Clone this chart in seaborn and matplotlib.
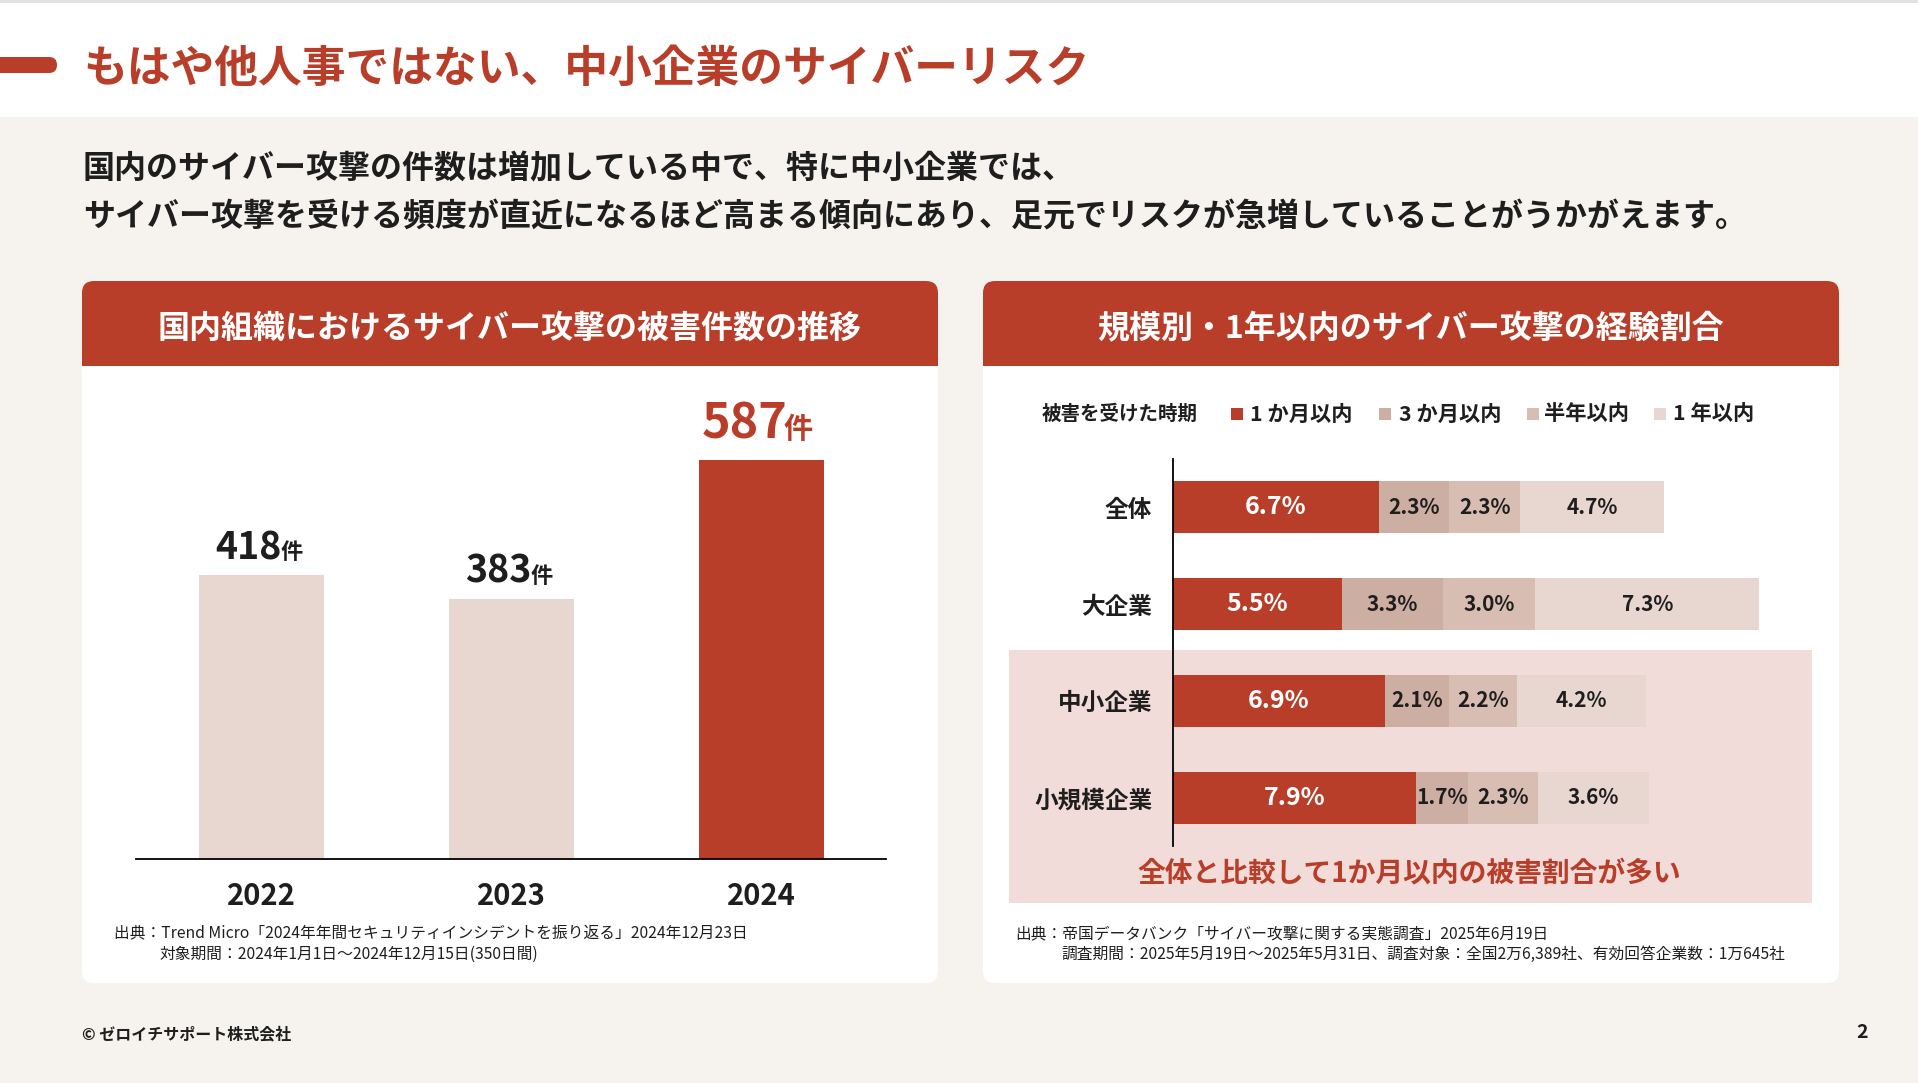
import numpy as np
import pandas as pd
import matplotlib.pyplot as plt
import seaborn as sns
from matplotlib.patches import FancyBboxPatch, Rectangle

W, H = 1918, 1083

RED = '#B83E2A'
BEIGE = '#E7D7D0'
BG = '#F6F3EF'
INK = '#1E1E1E'

# 左：国内組織の被害件数
years = ['2022', '2023', '2024']
incidents = [418, 383, 587]

# 右：規模別・被害を受けた時期（%）
groups = ['全体', '大企業', '中小企業', '小規模企業']
periods = ['1 か月以内', '3 か月以内', '半年以内', '1 年以内']
within_1m = [6.7, 5.5, 6.9, 7.9]
within_3m = [2.3, 3.3, 2.1, 1.7]
within_6m = [2.3, 3.0, 2.2, 2.3]
within_1y = [4.7, 7.3, 4.2, 3.6]
period_colors = [RED, '#CDAEA2', '#D8BEB2', '#E7D7D0']

sns.set_theme(style='white')
plt.rcParams['font.family'] = ['Noto Sans CJK JP', 'DejaVu Sans']

fig = plt.figure(figsize=(W / 100, H / 100), dpi=100)
fig.patch.set_facecolor(BG)

# 背景用の軸（ピクセル座標）
bg = fig.add_axes([0, 0, 1, 1])
bg.set_xlim(0, W)
bg.set_ylim(H, 0)
bg.axis('off')


def px_axes(x0, y0, x1, y1):
    return fig.add_axes([x0 / W, 1 - y1 / H, (x1 - x0) / W, (y1 - y0) / H])


# ヘッダー
bg.add_patch(Rectangle((0, 0), W, 117, fc='white', ec='none'))
bg.add_patch(Rectangle((0, 0), W, 3, fc='#E2E2E2', ec='none'))
bg.add_patch(FancyBboxPatch((-20, 57), 77, 16, boxstyle='round,pad=0,rounding_size=8',
                            fc=RED, ec='none'))
bg.text(83, 69, 'もはや他人事ではない、中小企業のサイバーリスク', fontsize=31.5,
        fontweight='bold', color=RED, va='center')

bg.text(83, 169, '国内のサイバー攻撃の件数は増加している中で、特に中小企業では、',
        fontsize=23, fontweight='bold', color=INK, va='center')
bg.text(83, 218, 'サイバー攻撃を受ける頻度が直近になるほど高まる傾向にあり、足元でリスクが急増していることがうかがえます。',
        fontsize=23, fontweight='bold', color=INK, va='center')

# カード
card_titles = ['国内組織におけるサイバー攻撃の被害件数の推移', '規模別・1年以内のサイバー攻撃の経験割合']
for x0, title in zip([82, 983], card_titles):
    bg.add_patch(FancyBboxPatch((x0, 281), 856, 702, boxstyle='round,pad=0,rounding_size=12',
                                fc='white', ec='none'))
    bg.add_patch(FancyBboxPatch((x0, 281), 856, 85, boxstyle='round,pad=0,rounding_size=12',
                                fc=RED, ec='none'))
    bg.add_patch(Rectangle((x0, 340), 856, 26, fc=RED, ec='none'))
    bg.text(x0 + 428, 329, title, fontsize=23, fontweight='bold', color='white',
            ha='center', va='center')

# 強調エリア
bg.add_patch(Rectangle((1009, 650), 803, 253, fc='#F2DCDA', ec='none'))
bg.text(1409, 873, '全体と比較して1か月以内の被害割合が多い', fontsize=20,
        fontweight='bold', color=RED, ha='center', va='center')

# 凡例
bg.text(1042, 414, '被害を受けた時期', fontsize=14, fontweight='bold', color=INK, va='center')
for sx, tx, lab, col in zip([1231, 1379, 1527, 1654], [1250, 1399, 1544, 1673], periods, period_colors):
    bg.add_patch(Rectangle((sx, 408), 12, 12, fc=col, ec='none'))
    bg.text(tx, 414, lab, fontsize=15.3, fontweight='bold', color=INK, va='center')

# 出典
bg.text(114, 934, '出典：Trend Micro「2024年年間セキュリティインシデントを振り返る」2024年12月23日',
        fontsize=11.3, color=INK, va='center')
bg.text(160, 954, '対象期間：2024年1月1日～2024年12月15日(350日間)',
        fontsize=11.3, color=INK, va='center')
bg.text(1015, 934, '出典：帝国データバンク「サイバー攻撃に関する実態調査」2025年6月19日',
        fontsize=11.3, color=INK, va='center')
bg.text(1061, 954, '調査期間：2025年5月19日～2025年5月31日、調査対象：全国2万6,389社、有効回答企業数：1万645社',
        fontsize=11.3, color=INK, va='center')

bg.text(82, 1034, '© ゼロイチサポート株式会社', fontsize=11.5, fontweight='bold', color=INK, va='center')
bg.text(1862, 1032, '2', fontsize=14, fontweight='bold', color=INK, ha='center', va='center')

# ---- 左グラフ ----
ax1 = px_axes(136, 400, 886, 859)
ax1.patch.set_alpha(0)
sns.barplot(x=years, y=incidents, hue=years, palette=[BEIGE, BEIGE, RED], legend=False,
            width=0.5, saturation=1, linewidth=0, ax=ax1)
ax1.set_xlim(-0.5, 2.5)
ax1.set_ylim(0, 676)
ax1.set_xlabel('')
ax1.set_ylabel('')
ax1.set_yticks([])
for s in ['top', 'right', 'left']:
    ax1.spines[s].set_visible(False)
ax1.spines['bottom'].set_color('black')
ax1.spines['bottom'].set_linewidth(1.3)
ax1.tick_params(axis='x', length=0, pad=16, labelsize=21)
for lab in ax1.get_xticklabels():
    lab.set_fontweight('bold')
    lab.set_color(INK)

for i, v in enumerate(incidents):
    hot = i == 2
    col = RED if hot else INK
    dx = 19 if hot else 15
    dy = 16 if hot else 11.5
    ax1.annotate(str(v), xy=(i, v), xytext=(dx, dy), textcoords='offset points',
                 ha='right', va='baseline', fontsize=35 if hot else 27,
                 fontweight='bold', color=col)
    ax1.annotate('件', xy=(i, v), xytext=(dx - (2.5 if hot else 1), dy), textcoords='offset points',
                 ha='left', va='baseline', fontsize=21 if hot else 16,
                 fontweight='bold', color=col)

# ---- 右グラフ（積み上げ横棒）----
ax2 = px_axes(1173, 459, 1810, 846)
ax2.patch.set_alpha(0)
parts = np.array([within_1m, within_3m, within_6m, within_1y])
cum = np.cumsum(parts, axis=0)
for k in reversed(range(len(periods))):
    sns.barplot(x=cum[k], y=groups, color=period_colors[k], orient='h', width=0.54,
                saturation=1, linewidth=0, ax=ax2)
ax2.set_xlim(0, 637 / 30.7)
ax2.set_ylim(3.5, -0.5)
ax2.set_xlabel('')
ax2.set_ylabel('')
ax2.set_xticks([])
for s in ['top', 'right', 'bottom']:
    ax2.spines[s].set_visible(False)
ax2.spines['left'].set_color('black')
ax2.spines['left'].set_linewidth(1.3)
ax2.tick_params(axis='y', length=0, pad=15, labelsize=17)
for lab in ax2.get_yticklabels():
    lab.set_fontweight('bold')
    lab.set_color(INK)

for k in range(len(periods)):
    for j in range(len(groups)):
        val = parts[k, j]
        mid = cum[k, j] - val / 2
        ax2.text(mid, j, f'{val:.1f}%', ha='center', va='center',
                 fontsize=18 if k == 0 else 15, fontweight='bold',
                 color='white' if k == 0 else INK)

fig.savefig('out.png', dpi=100, facecolor=fig.get_facecolor())
